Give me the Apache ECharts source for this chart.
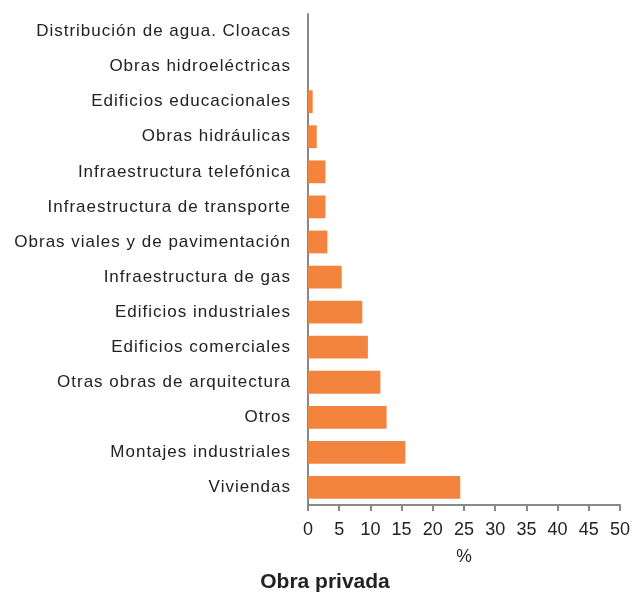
<!DOCTYPE html>
<html><head><meta charset="utf-8">
<script src="https://cdn.jsdelivr.net/npm/echarts@6/dist/echarts.min.js"></script>
<style>html,body{margin:0;padding:0;background:#fff}#c{width:633px;height:594px}</style>
</head><body><div id="c"></div>
<script>
const categories = ["Viviendas","Montajes industriales","Otros","Otras obras de arquitectura","Edificios comerciales","Edificios industriales","Infraestructura de gas","Obras viales y de pavimentación","Infraestructura de transporte","Infraestructura telefónica","Obras hidráulicas","Edificios educacionales","Obras hidroeléctricas","Distribución de agua. Cloacas"];
const values = [24.4,15.6,12.6,11.6,9.6,8.7,5.4,3.1,2.8,2.8,1.4,0.75,0,0];
const xTicks = [0,5,10,15,20,25,30,35,40,45,50];
const chart = echarts.init(document.getElementById('c'), null, {renderer:'canvas'});
const font = "'Liberation Sans', Arial, sans-serif";
const option = {
  animation:false,
  title:{text:'Obra privada',left:320,textAlign:'center',top:567,textStyle:{fontFamily:font,fontSize:21,fontWeight:'bold',color:'#222'}},
  grid:{left:308,right:11,top:14,bottom:89,containLabel:false},
  xAxis:{type:'value',min:xTicks[0],max:xTicks[xTicks.length-1],interval:5,
    name:'%',nameLocation:'middle',nameGap:43,nameTextStyle:{fontFamily:font,fontSize:17.5,color:'#222'},
    axisLine:{show:true,lineStyle:{color:'#888',width:2}},
    axisTick:{show:true,length:6,lineStyle:{color:'#888',width:2}},
    axisLabel:{fontFamily:font,fontSize:18,color:'#222',margin:16},
    splitLine:{show:false}},
  yAxis:{type:'category',data:categories,
    axisLine:{show:true,lineStyle:{color:'#888',width:2}},
    axisTick:{show:false},
    axisLabel:{fontFamily:font,fontSize:17,color:'#222',margin:17}},
  series:[{type:'bar',data:values,barCategoryGap:'35%',itemStyle:{color:'#F3843E'}}]
};
chart.setOption(option);
document.querySelectorAll('#c canvas').forEach(function(cv){
  const ctx = cv.getContext('2d');
  if (!('letterSpacing' in ctx)) return;
  const orig = ctx.fillText;
  ctx.fillText = function(t, x, y, w){
    const f = this.font || '';
    this.letterSpacing = (!/bold/.test(f) && /(^|\s)17px/.test(f)) ? '1px' : '0px';
    const r = w === undefined ? orig.call(this, t, x, y) : orig.call(this, t, x, y, w);
    this.letterSpacing = '0px';
    return r;
  };
});
chart.clear();
chart.setOption(option);
</script></body></html>
